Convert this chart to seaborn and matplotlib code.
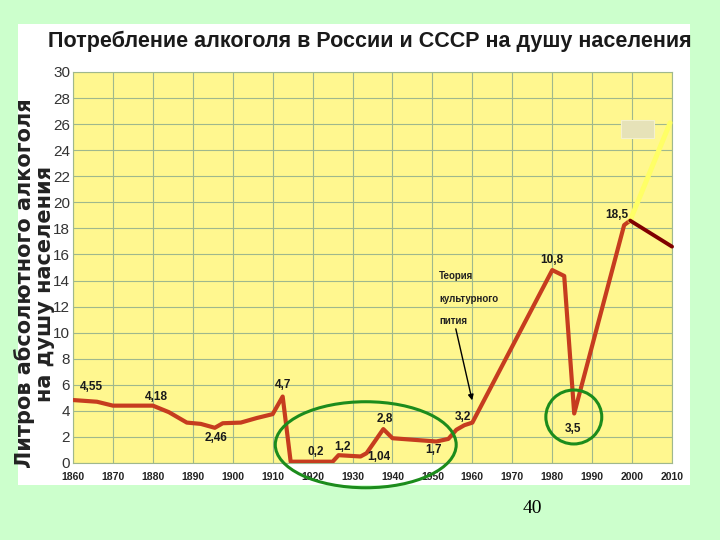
import matplotlib
matplotlib.use("Agg")
import matplotlib.pyplot as plt
import seaborn as sns
from matplotlib import font_manager
from matplotlib.patches import Ellipse, Rectangle

# Consumption of pure alcohol per capita, litres
years = [1860, 1866, 1870, 1880, 1884, 1888.5, 1892, 1895.5, 1897.5, 1902,
         1906, 1910, 1912.5, 1914.5, 1925, 1926.5, 1932, 1933.5, 1937.7, 1940,
         1951, 1954, 1956, 1958, 1960, 1980, 1983, 1985.5, 1998, 1999.5]
litres = [4.83, 4.7, 4.4, 4.4, 3.9, 3.1, 3.0, 2.7, 3.05, 3.1,
          3.45, 3.75, 5.1, 0.1, 0.1, 0.6, 0.5, 0.75, 2.6, 1.9,
          1.65, 1.85, 2.55, 2.9, 3.1, 14.8, 14.35, 3.8, 18.25, 18.6]

# value labels as printed on the chart
label_texts = ["4,55", "4,18", "2,46", "4,7", "0,2", "1,2", "1,04", "2,8",
               "1,7", "3,2", "10,8", "3,5", "18,5"]
label_years = [1864.7, 1880.8, 1895.8, 1912.5, 1920.9, 1927.5, 1936.5, 1938.1,
               1950.2, 1957.7, 1979.9, 1985.3, 1996.2]
label_levels = [5.85, 5.05, 1.9, 6.0, 0.87, 1.25, 0.44, 3.4,
                1.0, 3.55, 15.6, 2.6, 19.0]

title = "Потребление алкоголя в России и СССР на душу населения"
ylabel = "Литров абсолютного алкоголя\nна душу населения"
note = "Теория\n\nкультурного\n\nпития"

sns.set_theme(style="white")
plt.rcParams['font.family'] = ['Liberation Sans', 'DejaVu Sans']

# narrow face for the title if there is one
installed = {f.name for f in font_manager.fontManager.ttflist}
if 'Liberation Sans Narrow' in installed:
    title_font, title_size = 'Liberation Sans Narrow', 20
else:
    title_font, title_size = 'Liberation Sans', 15.5

fig = plt.figure(figsize=(7.2, 5.4), dpi=100, facecolor='#ccffcc')
fig.patches.append(Rectangle((0.025, 0.102), 0.933, 0.854, transform=fig.transFigure,
                             facecolor='white', edgecolor='none', zorder=-5))
ax = fig.add_axes([0.1014, 0.1426, 0.832, 0.7241])
ax.set_facecolor('#fff78f')

sns.lineplot(x=years, y=litres, color='#c63c1f', linewidth=3.0, ax=ax, zorder=4)

ax.set_xlim(1860, 2010)
ax.set_ylim(0, 30)
ax.set_xticks(range(1860, 2011, 10))
ax.set_yticks(range(0, 31, 2))
ax.grid(True, color='#9fb88d', linewidth=0.8)
for s in ax.spines.values():
    s.set_color('#9fb88d')
    s.set_linewidth(0.8)
ax.tick_params(axis='both', length=0)
ax.tick_params(axis='y', labelsize=11, labelcolor='#333333', pad=2)
ax.tick_params(axis='x', pad=6.5)
for t in ax.get_xticklabels():
    t.set_fontfamily([title_font, 'Liberation Sans'])
    t.set_fontweight('bold')
    t.set_fontsize(8 if title_font != 'Liberation Sans' else 7.5)
    t.set_color('#222222')
ax.set_xlabel("")
ax.set_ylabel("")

for txt, x, y in zip(label_texts, label_years, label_levels):
    ax.text(x, y, txt, ha='center', va='center', fontsize=8.5,
            fontweight='bold', color='#1a1a1a', zorder=6)

ax.text(1951.7, 12.6, note, ha='left', va='center', fontsize=7,
        fontweight='bold', color='#222222', linespacing=1.15, zorder=6)
ax.annotate('', xy=(1960.1, 4.6), xytext=(1955.7, 10.5),
            arrowprops=dict(arrowstyle='-|>', color='black', lw=1.0,
                            mutation_scale=8), zorder=6)

# green highlight ellipses
ax.add_patch(Ellipse((1933.3, 1.4), 45.3, 6.6, fill=False, edgecolor='#1c8c1c',
                     linewidth=2.2, clip_on=False, zorder=7))
ax.add_patch(Ellipse((1985.4, 3.53), 14.0, 4.14, fill=False, edgecolor='#1c8c1c',
                     linewidth=2.2, clip_on=False, zorder=7))

# pointer lines from the last point
ax.add_patch(Rectangle((1997.3, 24.95), 8.3, 1.35, facecolor='#e6e2b8',
                       edgecolor='#f3f0d0', linewidth=0.8, zorder=5))
ax.annotate('', xy=(2009.5, 26.1), xytext=(years[-1], litres[-1]),
            arrowprops=dict(arrowstyle='-', color='#ffff66', lw=3.6,
                            shrinkA=0, shrinkB=0), zorder=6, annotation_clip=False)
ax.annotate('', xy=(2010, 16.6), xytext=(years[-1], litres[-1]),
            arrowprops=dict(arrowstyle='-', color='#800000', lw=2.8,
                            shrinkA=0, shrinkB=0), zorder=6, annotation_clip=False)

fig.text(0.514, 0.924, title, ha='center', va='center', fontsize=title_size,
         fontweight='bold', color='#1a1a1a',
         family=[title_font, 'Liberation Sans', 'DejaVu Sans'])
fig.text(0.048, 0.475, ylabel, ha='center', va='center', rotation=90,
         fontsize=15, fontweight='bold', color='#222222', linespacing=0.95,
         family=['DejaVu Sans'])
fig.text(0.74, 0.058, "40", ha='center', va='center', fontsize=14,
         color='black', family=['Liberation Serif', 'DejaVu Serif'])

fig.savefig("out.png", dpi=100, facecolor=fig.get_facecolor())
